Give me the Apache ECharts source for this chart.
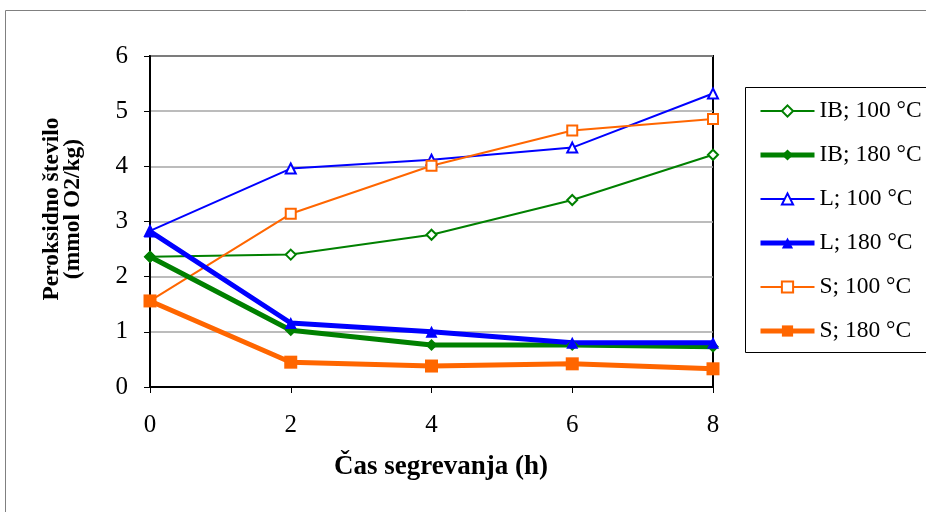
<!DOCTYPE html>
<html>
<head>
<meta charset="utf-8">
<script src="https://cdn.jsdelivr.net/npm/echarts@6/dist/echarts.min.js"></script>
<style>
  html, body { margin: 0; padding: 0; background: #fff; }
  #chart { width: 926px; height: 512px; }
</style>
</head>
<body>
<div id="chart"></div>
<script>
// Heating time (h)
const hours = [0, 2, 4, 6, 8];

// Peroxide value (mmol O2/kg) per sample and temperature
const ib100 = [2.36, 2.40, 2.76, 3.39, 4.21];
const ib180 = [2.36, 1.03, 0.76, 0.76, 0.73];
const l100  = [2.83, 3.96, 4.12, 4.34, 5.32];
const l180  = [2.82, 1.16, 1.00, 0.80, 0.80];
const s100  = [1.56, 3.14, 4.01, 4.65, 4.86];
const s180  = [1.56, 0.45, 0.38, 0.42, 0.33];

const seriesNames = ['IB; 100 °C', 'IB; 180 °C', 'L; 100 °C', 'L; 180 °C', 'S; 100 °C', 'S; 180 °C'];
const yTicks = [0, 1, 2, 3, 4, 5, 6];
const xTicks = [0, 2, 4, 6, 8];

const GREEN = '#008000';
const BLUE = '#0000ff';
const ORANGE = '#ff6600';
const SERIF = '"Liberation Serif", "Times New Roman", serif';
const THIN = 2;
const THICK = 5;

function pairs(vals) {
  return hours.map((h, i) => [h, vals[i]]);
}

function lineSeries(name, vals, color, thick, symbol) {
  return {
    name: name,
    type: 'line',
    data: pairs(vals),
    symbol: symbol,
    symbolSize: thick ? (symbol === 'rect' ? 13 : 12) : 10,
    showSymbol: true,
    lineStyle: { color: color, width: thick ? THICK : THIN },
    itemStyle: { color: color, borderWidth: symbol.startsWith('empty') ? 1.5 : 0 },
    emphasis: { disabled: true },
    animation: false,
    z: thick ? 4 : 3
  };
}

const chart = echarts.init(document.getElementById('chart'), null, { renderer: 'canvas' });

const legendWidths = [THIN, THICK, THIN, THICK, THIN, THICK];

chart.setOption({
  backgroundColor: '#fff',
  animation: false,
  grid: {
    left: 150, right: 213, top: 56, bottom: 125,
    show: true, borderColor: '#000', borderWidth: 2, backgroundColor: 'transparent'
  },
  xAxis: {
    type: 'value',
    min: 0, max: 8, interval: 2,
    axisLine: { show: true, onZero: false, lineStyle: { color: '#000', width: 2 } },
    axisTick: { show: true, inside: false, length: 6, lineStyle: { color: '#000', width: 1 } },
    axisLabel: {
      margin: 26, color: '#000', fontFamily: SERIF, fontSize: 25,
      formatter: v => xTicks.includes(v) ? String(v) : ''
    },
    splitLine: { show: false }
  },
  yAxis: {
    type: 'value',
    min: 0, max: 6, interval: 1,
    axisLine: { show: true, lineStyle: { color: '#000', width: 2 } },
    axisTick: { show: true, inside: false, length: 6, lineStyle: { color: '#000', width: 1 } },
    axisLabel: {
      margin: 22, color: '#000', fontFamily: SERIF, fontSize: 25,
      formatter: v => yTicks.includes(v) ? String(v) : ''
    },
    splitLine: { show: true, lineStyle: { color: '#a6a6a6', width: 1.5 } }
  },
  legend: {
    orient: 'vertical',
    left: 758, top: 99, padding: 0,
    itemWidth: 54, itemHeight: 14, itemGap: 20,
    data: seriesNames.map((n, i) => ({ name: n, lineStyle: { width: legendWidths[i] } })),
    textStyle: { color: '#000', fontFamily: SERIF, fontSize: 23.5, lineHeight: 24 },
    selectedMode: false
  },
  graphic: [
    {
      type: 'rect', silent: true, z: -10,
      shape: { x: 5.5, y: 10.5, width: 1000, height: 600 },
      style: { fill: 'none', stroke: '#808080', lineWidth: 1 }
    },
    {
      type: 'rect', silent: true, z: -5,
      shape: { x: 745.5, y: 87.5, width: 300, height: 265 },
      style: { fill: '#fff', stroke: '#000', lineWidth: 1 }
    },
    {
      type: 'text', silent: true,
      x: 62, y: 209, rotation: Math.PI / 2,
      style: {
        text: 'Peroksidno število\n(mmol O2/kg)',
        align: 'center', verticalAlign: 'middle',
        fontFamily: SERIF, fontWeight: 'bold', fontSize: 23.5, lineHeight: 21,
        fill: '#000'
      }
    },
    {
      type: 'text', silent: true,
      x: 441, y: 467,
      style: {
        text: 'Čas segrevanja (h)',
        align: 'center', verticalAlign: 'middle',
        fontFamily: SERIF, fontWeight: 'bold', fontSize: 27,
        fill: '#000'
      }
    }
  ],
  series: [
    lineSeries(seriesNames[0], ib100, GREEN, false, 'emptyDiamond'),
    lineSeries(seriesNames[1], ib180, GREEN, true, 'diamond'),
    lineSeries(seriesNames[2], l100, BLUE, false, 'emptyTriangle'),
    lineSeries(seriesNames[3], l180, BLUE, true, 'triangle'),
    lineSeries(seriesNames[4], s100, ORANGE, false, 'emptyRect'),
    lineSeries(seriesNames[5], s180, ORANGE, true, 'rect')
  ]
});
</script>
</body>
</html>
